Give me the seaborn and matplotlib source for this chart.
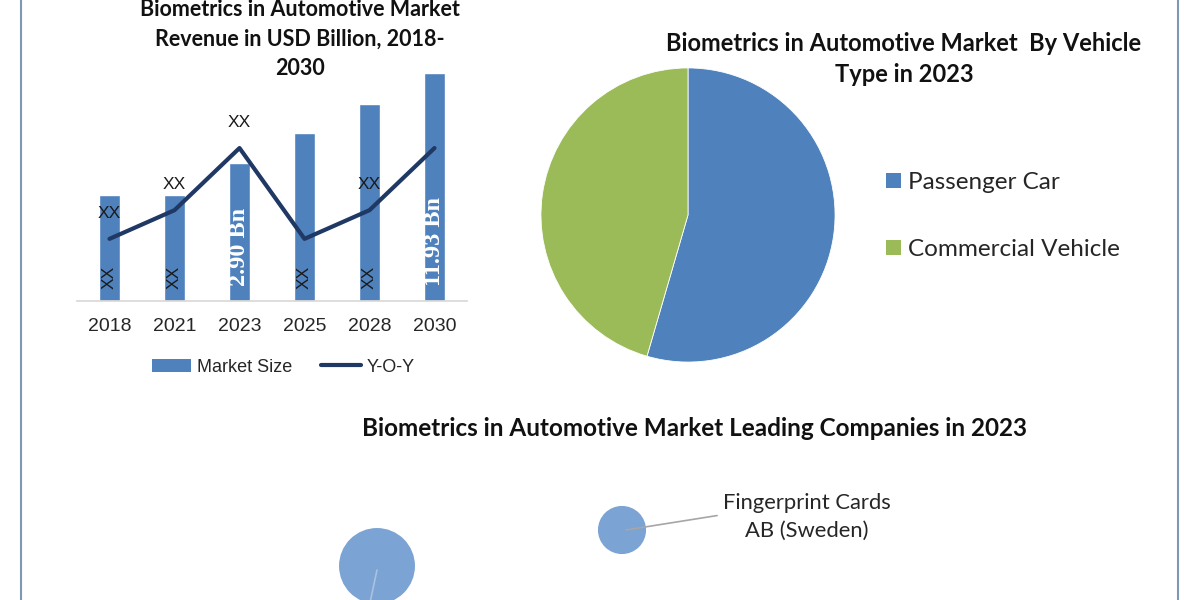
import numpy as np
import pandas as pd
import matplotlib
matplotlib.use("Agg")
import matplotlib.pyplot as plt
import seaborn as sns
from matplotlib.patches import Patch
from matplotlib.lines import Line2D

# ---------------- data ----------------
years = ["2018", "2021", "2023", "2025", "2028", "2030"]
market_size = [5.55, 5.55, 7.2, 8.8, 10.3, 11.93]
yoy = [3.25, 4.75, 8.0, 3.25, 4.75, 8.0]
yoy_labels = ["XX", "XX", "XX", "", "XX", ""]
bar_labels = ["XX", "XX", "2.90 Bn", "XX", "XX", "11.93 Bn"]

vehicle_types = ["Passenger Car", "Commercial Vehicle"]
vehicle_share = [54.5, 45.5]

companies = ["", "Fingerprint Cards\nAB (Sweden)"]
company_x = [377, 622]
company_y = [566, 530]
company_size = [2990, 1200]

BLUE = "#4F81BD"
GREEN = "#9BBB59"
NAVY = "#1F3864"
BUBBLE = "#7BA3D3"

sns.set_theme(style="white")
plt.rcParams["font.family"] = ["Lato", "DejaVu Sans"]

fig = plt.figure(figsize=(12, 6), dpi=100)
fig.patch.set_facecolor("white")

# ---------------- bar + line chart ----------------
W, H = 1200, 600
ax = fig.add_axes([77 / W, 1 - 301 / H, 390 / W, 239 / H])
df = pd.DataFrame({"year": years, "size": market_size})
sns.barplot(data=df, x="year", y="size", color=BLUE, saturation=1, width=0.32, ax=ax)
sns.lineplot(x=np.arange(len(years)), y=yoy, color=NAVY, lw=3, ax=ax, sort=False)
ax.set_ylim(0, 12.5)
ax.set_xlim(-0.5, len(years) - 0.5)
ax.set_xlabel("")
ax.set_ylabel("")
ax.set_yticks([])
for s in ["top", "left", "right"]:
    ax.spines[s].set_visible(False)
ax.spines["bottom"].set_color("#d9d9d9")
ax.tick_params(axis="x", length=0, pad=12)
for t in ax.get_xticklabels():
    t.set_fontfamily("Liberation Sans")
    t.set_fontsize(14)
    t.set_color("#262626")

for i, (lab, v) in enumerate(zip(yoy_labels, yoy)):
    if lab:
        ax.text(i, v + 1.35, lab, ha="center", va="center", fontsize=12.5,
                family="Liberation Sans", color="#1a1a1a")
for i, lab in enumerate(bar_labels):
    if lab == "XX":
        ax.text(i, 1.25, lab, ha="center", va="center", rotation=90, fontsize=12.5,
                family="Liberation Sans", color="#1a1a1a")
    else:
        ax.text(i, 0.8, lab, ha="center", va="bottom", rotation=90, fontsize=17.5,
                family="Liberation Serif", fontweight="bold", color="white")

handles = [Patch(facecolor=BLUE, edgecolor="none", label="Market Size"),
           Line2D([0], [0], color=NAVY, lw=3, label="Y-O-Y")]
ax.legend(handles=handles, loc="center", bbox_to_anchor=(283 / W, 1 - 367 / H),
          bbox_transform=fig.transFigure, ncol=2, frameon=False,
          prop={"family": "Liberation Sans", "size": 13}, handlelength=2.2,
          columnspacing=1.6, handletextpad=0.3)

fig.text(300 / W, 1 - 39 / H,
         "Biometrics in Automotive Market\nRevenue in USD Billion, 2018-\n2030",
         ha="center", va="center", fontsize=15.5, fontweight="bold",
         linespacing=1.5, color="#111111")

# ---------------- pie chart ----------------
axp = fig.add_axes([(688 - 150) / W, 1 - (215 + 150) / H, 300 / W, 300 / H])
axp.pie(vehicle_share, colors=[BLUE, GREEN], startangle=90, counterclock=False,
        wedgeprops=dict(edgecolor="white", linewidth=0.6))
axp.set_xlim(-1.02, 1.02)
axp.set_ylim(-1.02, 1.02)
axp.set_aspect("equal")

fig.text(904 / W, 1 - 59 / H, "Biometrics in Automotive Market  By Vehicle\nType in 2023",
         ha="center", va="center", fontsize=17, fontweight="bold",
         linespacing=1.4, color="#111111")

pie_handles = [Patch(facecolor=c, edgecolor="none", label=l)
               for c, l in zip([BLUE, GREEN], vehicle_types)]
fig.legend(handles=pie_handles, loc="upper left",
           bbox_to_anchor=(886 / W, 1 - 172 / H), frameon=False,
           prop={"family": "Lato", "size": 17.5}, handlelength=0.6, handleheight=0.6,
           handletextpad=0.3, labelspacing=1.9, labelcolor="#262626",
           borderpad=0, borderaxespad=0)

# ---------------- bubbles ----------------
axb = fig.add_axes([0, 0, 1, 1], facecolor="none")
axb.set_xlim(0, W)
axb.set_ylim(H, 0)
axb.axis("off")
sns.scatterplot(x=company_x, y=company_y, s=company_size, color=BUBBLE,
                edgecolor="none", ax=axb, legend=False, clip_on=False)
axb.annotate(companies[1], xy=(company_x[1] + 4, company_y[1]),
             xytext=(807, 517), ha="center", va="center", fontsize=15.8,
             color="#262626", linespacing=1.5,
             arrowprops=dict(arrowstyle="-", color="#a6a6a6", lw=1.2,
                             relpos=(0, 0.55), shrinkA=2, shrinkB=0))
axb.annotate(companies[0], xy=(company_x[0], company_y[0] + 4),
             xytext=(362, 640), ha="center", va="center", annotation_clip=False,
             arrowprops=dict(arrowstyle="-", color="#a9c2e0", lw=1.2,
                             shrinkA=0, shrinkB=0))

fig.text(694 / W, 1 - 428 / H,
         "Biometrics in Automotive Market Leading Companies in 2023",
         ha="center", va="center", fontsize=17.5, fontweight="bold", color="#111111")

# frame lines
for xpix in (21, 1178):
    axb.axvline(xpix, color="#8198b3", lw=1.5)

fig.savefig("out.png", dpi=100, facecolor="white")
